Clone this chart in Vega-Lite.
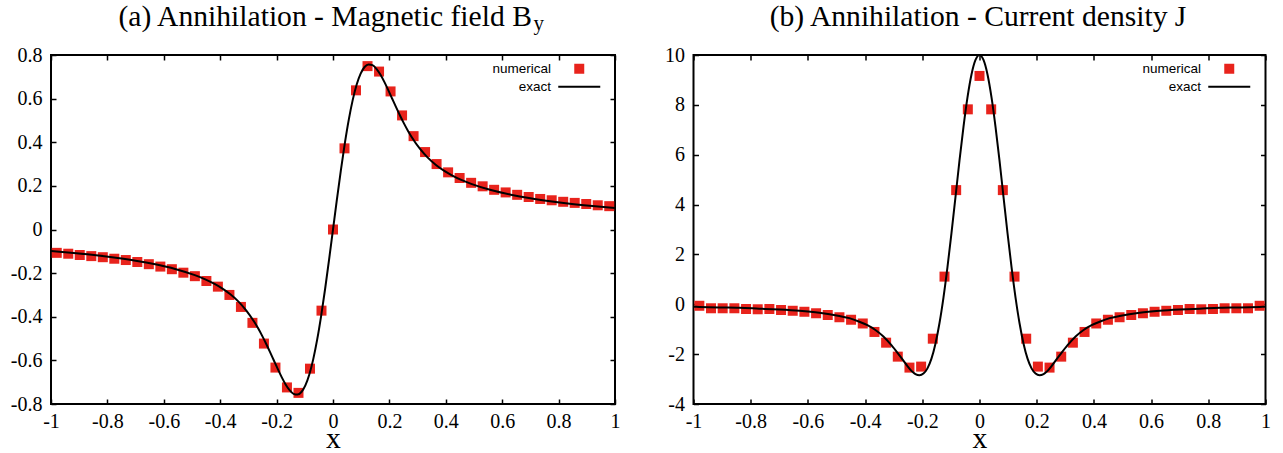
{
  "$schema": "https://vega.github.io/schema/vega-lite/v6.json",
  "background": "white",
  "padding": {"left": 9, "top": 1, "right": 0, "bottom": 0},
  "spacing": 42.5,
  "datasets": {
    "bNum": [
      {"x": -0.9796, "y": -0.107, "series": "numerical"},
      {"x": -0.9388, "y": -0.111, "series": "numerical"},
      {"x": -0.8980, "y": -0.117, "series": "numerical"},
      {"x": -0.8571, "y": -0.122, "series": "numerical"},
      {"x": -0.8163, "y": -0.127, "series": "numerical"},
      {"x": -0.7755, "y": -0.134, "series": "numerical"},
      {"x": -0.7347, "y": -0.140, "series": "numerical"},
      {"x": -0.6939, "y": -0.149, "series": "numerical"},
      {"x": -0.6531, "y": -0.159, "series": "numerical"},
      {"x": -0.6122, "y": -0.170, "series": "numerical"},
      {"x": -0.5714, "y": -0.182, "series": "numerical"},
      {"x": -0.5306, "y": -0.198, "series": "numerical"},
      {"x": -0.4898, "y": -0.214, "series": "numerical"},
      {"x": -0.4490, "y": -0.236, "series": "numerical"},
      {"x": -0.4082, "y": -0.262, "series": "numerical"},
      {"x": -0.3673, "y": -0.300, "series": "numerical"},
      {"x": -0.3265, "y": -0.355, "series": "numerical"},
      {"x": -0.2857, "y": -0.428, "series": "numerical"},
      {"x": -0.2449, "y": -0.523, "series": "numerical"},
      {"x": -0.2041, "y": -0.633, "series": "numerical"},
      {"x": -0.1633, "y": -0.724, "series": "numerical"},
      {"x": -0.1224, "y": -0.749, "series": "numerical"},
      {"x": -0.0816, "y": -0.638, "series": "numerical"},
      {"x": -0.0408, "y": -0.372, "series": "numerical"},
      {"x": 0.0, "y": 0.0, "series": "numerical"},
      {"x": 0.0408, "y": 0.372, "series": "numerical"},
      {"x": 0.0816, "y": 0.638, "series": "numerical"},
      {"x": 0.1224, "y": 0.749, "series": "numerical"},
      {"x": 0.1633, "y": 0.724, "series": "numerical"},
      {"x": 0.2041, "y": 0.633, "series": "numerical"},
      {"x": 0.2449, "y": 0.523, "series": "numerical"},
      {"x": 0.2857, "y": 0.428, "series": "numerical"},
      {"x": 0.3265, "y": 0.355, "series": "numerical"},
      {"x": 0.3673, "y": 0.300, "series": "numerical"},
      {"x": 0.4082, "y": 0.262, "series": "numerical"},
      {"x": 0.4490, "y": 0.236, "series": "numerical"},
      {"x": 0.4898, "y": 0.214, "series": "numerical"},
      {"x": 0.5306, "y": 0.198, "series": "numerical"},
      {"x": 0.5714, "y": 0.182, "series": "numerical"},
      {"x": 0.6122, "y": 0.170, "series": "numerical"},
      {"x": 0.6531, "y": 0.159, "series": "numerical"},
      {"x": 0.6939, "y": 0.149, "series": "numerical"},
      {"x": 0.7347, "y": 0.140, "series": "numerical"},
      {"x": 0.7755, "y": 0.134, "series": "numerical"},
      {"x": 0.8163, "y": 0.127, "series": "numerical"},
      {"x": 0.8571, "y": 0.122, "series": "numerical"},
      {"x": 0.8980, "y": 0.117, "series": "numerical"},
      {"x": 0.9388, "y": 0.111, "series": "numerical"},
      {"x": 0.9796, "y": 0.107, "series": "numerical"}
    ],
    "bExact": [
      {"x": -1.0, "y": -0.099}, {"x": -0.98, "y": -0.101}, {"x": -0.91, "y": -0.109},
      {"x": -0.84, "y": -0.1183}, {"x": -0.77, "y": -0.1295}, {"x": -0.70, "y": -0.1429},
      {"x": -0.63, "y": -0.1597}, {"x": -0.56, "y": -0.181}, {"x": -0.49, "y": -0.2094},
      {"x": -0.455, "y": -0.2273}, {"x": -0.42, "y": -0.2496}, {"x": -0.392, "y": -0.271},
      {"x": -0.364, "y": -0.2971}, {"x": -0.336, "y": -0.3294}, {"x": -0.308, "y": -0.3703},
      {"x": -0.28, "y": -0.4218}, {"x": -0.266, "y": -0.4518}, {"x": -0.252, "y": -0.4854},
      {"x": -0.238, "y": -0.5215}, {"x": -0.224, "y": -0.5599}, {"x": -0.21, "y": -0.5995},
      {"x": -0.196, "y": -0.6391}, {"x": -0.182, "y": -0.6766}, {"x": -0.168, "y": -0.7102},
      {"x": -0.154, "y": -0.7367}, {"x": -0.14, "y": -0.7533}, {"x": -0.126, "y": -0.757},
      {"x": -0.112, "y": -0.7449}, {"x": -0.098, "y": -0.7147}, {"x": -0.084, "y": -0.6647},
      {"x": -0.07, "y": -0.5942}, {"x": -0.056, "y": -0.5039}, {"x": -0.042, "y": -0.3956},
      {"x": -0.028, "y": -0.2727}, {"x": -0.014, "y": -0.139}, {"x": 0.0, "y": 0.0},
      {"x": 0.014, "y": 0.139}, {"x": 0.028, "y": 0.2727}, {"x": 0.042, "y": 0.3956},
      {"x": 0.056, "y": 0.5039}, {"x": 0.07, "y": 0.5942}, {"x": 0.084, "y": 0.6647},
      {"x": 0.098, "y": 0.7147}, {"x": 0.112, "y": 0.7449}, {"x": 0.126, "y": 0.757},
      {"x": 0.14, "y": 0.7533}, {"x": 0.154, "y": 0.7367}, {"x": 0.168, "y": 0.7102},
      {"x": 0.182, "y": 0.6766}, {"x": 0.196, "y": 0.6391}, {"x": 0.21, "y": 0.5995},
      {"x": 0.224, "y": 0.5599}, {"x": 0.238, "y": 0.5215}, {"x": 0.252, "y": 0.4854},
      {"x": 0.266, "y": 0.4518}, {"x": 0.28, "y": 0.4218}, {"x": 0.308, "y": 0.3703},
      {"x": 0.336, "y": 0.3294}, {"x": 0.364, "y": 0.2971}, {"x": 0.392, "y": 0.271},
      {"x": 0.42, "y": 0.2496}, {"x": 0.455, "y": 0.2273}, {"x": 0.49, "y": 0.2094},
      {"x": 0.56, "y": 0.181}, {"x": 0.63, "y": 0.1597}, {"x": 0.70, "y": 0.1429},
      {"x": 0.77, "y": 0.1295}, {"x": 0.84, "y": 0.1183}, {"x": 0.91, "y": 0.109},
      {"x": 0.98, "y": 0.101}, {"x": 1.0, "y": 0.099}
    ],
    "jNum": [
      {"x": -0.9796, "y": -0.06, "series": "numerical"},
      {"x": -0.9388, "y": -0.16, "series": "numerical"},
      {"x": -0.8980, "y": -0.16, "series": "numerical"},
      {"x": -0.8571, "y": -0.16, "series": "numerical"},
      {"x": -0.8163, "y": -0.19, "series": "numerical"},
      {"x": -0.7755, "y": -0.20, "series": "numerical"},
      {"x": -0.7347, "y": -0.19, "series": "numerical"},
      {"x": -0.6939, "y": -0.23, "series": "numerical"},
      {"x": -0.6531, "y": -0.26, "series": "numerical"},
      {"x": -0.6122, "y": -0.30, "series": "numerical"},
      {"x": -0.5714, "y": -0.36, "series": "numerical"},
      {"x": -0.5306, "y": -0.43, "series": "numerical"},
      {"x": -0.4898, "y": -0.52, "series": "numerical"},
      {"x": -0.4490, "y": -0.62, "series": "numerical"},
      {"x": -0.4082, "y": -0.77, "series": "numerical"},
      {"x": -0.3673, "y": -1.11, "series": "numerical"},
      {"x": -0.3265, "y": -1.54, "series": "numerical"},
      {"x": -0.2857, "y": -2.10, "series": "numerical"},
      {"x": -0.2449, "y": -2.54, "series": "numerical"},
      {"x": -0.2041, "y": -2.50, "series": "numerical"},
      {"x": -0.1633, "y": -1.38, "series": "numerical"},
      {"x": -0.1224, "y": 1.11, "series": "numerical"},
      {"x": -0.0816, "y": 4.58, "series": "numerical"},
      {"x": -0.0408, "y": 7.82, "series": "numerical"},
      {"x": 0.0, "y": 9.16, "series": "numerical"},
      {"x": 0.0408, "y": 7.82, "series": "numerical"},
      {"x": 0.0816, "y": 4.58, "series": "numerical"},
      {"x": 0.1224, "y": 1.11, "series": "numerical"},
      {"x": 0.1633, "y": -1.38, "series": "numerical"},
      {"x": 0.2041, "y": -2.50, "series": "numerical"},
      {"x": 0.2449, "y": -2.54, "series": "numerical"},
      {"x": 0.2857, "y": -2.10, "series": "numerical"},
      {"x": 0.3265, "y": -1.54, "series": "numerical"},
      {"x": 0.3673, "y": -1.11, "series": "numerical"},
      {"x": 0.4082, "y": -0.77, "series": "numerical"},
      {"x": 0.4490, "y": -0.62, "series": "numerical"},
      {"x": 0.4898, "y": -0.52, "series": "numerical"},
      {"x": 0.5306, "y": -0.43, "series": "numerical"},
      {"x": 0.5714, "y": -0.36, "series": "numerical"},
      {"x": 0.6122, "y": -0.30, "series": "numerical"},
      {"x": 0.6531, "y": -0.26, "series": "numerical"},
      {"x": 0.6939, "y": -0.23, "series": "numerical"},
      {"x": 0.7347, "y": -0.19, "series": "numerical"},
      {"x": 0.7755, "y": -0.20, "series": "numerical"},
      {"x": 0.8163, "y": -0.19, "series": "numerical"},
      {"x": 0.8571, "y": -0.16, "series": "numerical"},
      {"x": 0.8980, "y": -0.16, "series": "numerical"},
      {"x": 0.9388, "y": -0.16, "series": "numerical"},
      {"x": 0.9796, "y": -0.06, "series": "numerical"}
    ],
    "jExact": [
      {"x": -1.0, "y": -0.10}, {"x": -0.98, "y": -0.105}, {"x": -0.91, "y": -0.127},
      {"x": -0.84, "y": -0.14}, {"x": -0.77, "y": -0.175}, {"x": -0.70, "y": -0.21},
      {"x": -0.63, "y": -0.26}, {"x": -0.56, "y": -0.34}, {"x": -0.49, "y": -0.47},
      {"x": -0.455, "y": -0.556}, {"x": -0.42, "y": -0.70}, {"x": -0.392, "y": -0.84},
      {"x": -0.364, "y": -1.03}, {"x": -0.336, "y": -1.29}, {"x": -0.308, "y": -1.64},
      {"x": -0.28, "y": -2.05}, {"x": -0.266, "y": -2.26}, {"x": -0.252, "y": -2.48},
      {"x": -0.238, "y": -2.67}, {"x": -0.224, "y": -2.80}, {"x": -0.21, "y": -2.85},
      {"x": -0.196, "y": -2.78}, {"x": -0.182, "y": -2.57}, {"x": -0.168, "y": -2.18},
      {"x": -0.154, "y": -1.58}, {"x": -0.14, "y": -0.76}, {"x": -0.126, "y": 0.27},
      {"x": -0.112, "y": 1.49}, {"x": -0.098, "y": 2.85}, {"x": -0.084, "y": 4.30},
      {"x": -0.07, "y": 5.76}, {"x": -0.056, "y": 7.12}, {"x": -0.042, "y": 8.30},
      {"x": -0.028, "y": 9.22}, {"x": -0.014, "y": 9.80}, {"x": 0.0, "y": 10.0},
      {"x": 0.014, "y": 9.80}, {"x": 0.028, "y": 9.22}, {"x": 0.042, "y": 8.30},
      {"x": 0.056, "y": 7.12}, {"x": 0.07, "y": 5.76}, {"x": 0.084, "y": 4.30},
      {"x": 0.098, "y": 2.85}, {"x": 0.112, "y": 1.49}, {"x": 0.126, "y": 0.27},
      {"x": 0.14, "y": -0.76}, {"x": 0.154, "y": -1.58}, {"x": 0.168, "y": -2.18},
      {"x": 0.182, "y": -2.57}, {"x": 0.196, "y": -2.78}, {"x": 0.21, "y": -2.85},
      {"x": 0.224, "y": -2.80}, {"x": 0.238, "y": -2.67}, {"x": 0.252, "y": -2.48},
      {"x": 0.266, "y": -2.26}, {"x": 0.28, "y": -2.05}, {"x": 0.308, "y": -1.64},
      {"x": 0.336, "y": -1.29}, {"x": 0.364, "y": -1.03}, {"x": 0.392, "y": -0.84},
      {"x": 0.42, "y": -0.70}, {"x": 0.455, "y": -0.556}, {"x": 0.49, "y": -0.47},
      {"x": 0.56, "y": -0.34}, {"x": 0.63, "y": -0.26}, {"x": 0.70, "y": -0.21},
      {"x": 0.77, "y": -0.175}, {"x": 0.84, "y": -0.14}, {"x": 0.91, "y": -0.127},
      {"x": 0.98, "y": -0.105}, {"x": 1.0, "y": -0.10}
    ]
  },
  "resolve": {"scale": {"color": "independent", "shape": "independent", "x": "independent", "y": "independent"}, "legend": {"color": "independent", "shape": "independent"}},
  "hconcat": [
    {
      "width": 564,
      "height": 349,
      "title": {"text": "(a) Annihilation - Magnetic field B", "anchor": "start", "frame": "group", "dx": 67.5, "baseline": "alphabetic", "offset": -43.6},
      "layer": [
        {
          "data": {"name": "bNum"},
          "mark": {"type": "point", "filled": true, "size": 100, "opacity": 1},
          "encoding": {
            "x": {"field": "x", "type": "quantitative", "scale": {"domain": [-1, 1], "nice": false, "zero": false},
              "axis": {"orient": "bottom", "values": [-1, -0.8, -0.6, -0.4, -0.2, 0, 0.2, 0.4, 0.6, 0.8, 1], "labelExpr": "replace(format(datum.value, '~g'), '\u2212', '-')", "labelPadding": 12.4, "title": "x", "titleY": 43.5, "titleBaseline": "alphabetic"}},
            "y": {"field": "y", "type": "quantitative", "scale": {"domain": [-0.8, 0.8], "nice": false, "zero": false},
              "axis": {"orient": "left", "values": [-0.8, -0.6, -0.4, -0.2, 0, 0.2, 0.4, 0.6, 0.8], "labelExpr": "replace(format(datum.value, '~g'), '\u2212', '-')", "labelPadding": 14, "title": null}},
            "color": {"field": "series", "type": "nominal", "scale": {"domain": ["numerical", "exact"], "range": ["#e8231c", "#000000"]},
              "legend": {"title": null, "orient": "none", "legendX": 521.5, "legendY": 7, "labelAlign": "right", "labelOffset": -35, "labelFont": "Liberation Sans", "labelFontSize": 13.5, "labelColor": "black", "symbolSize": 100, "rowPadding": 1, "padding": 0, "symbolStrokeWidth": 2, "symbolOpacity": 1,
                "encode": {"symbols": {"update": {"stroke": {"signal": "datum.value === 'exact' ? 'black' : 'transparent'"}, "strokeWidth": {"value": 2}}}}}},
            "shape": {"field": "series", "type": "nominal", "scale": {"domain": ["numerical", "exact"], "range": ["square", "M-4.2,0H4.2"]},
              "legend": {"title": null, "orient": "none", "legendX": 521.5, "legendY": 7, "labelAlign": "right", "labelOffset": -35, "labelFont": "Liberation Sans", "labelFontSize": 13.5, "labelColor": "black", "symbolSize": 100, "rowPadding": 1, "padding": 0, "symbolStrokeWidth": 2, "symbolOpacity": 1,
                "encode": {"symbols": {"update": {"stroke": {"signal": "datum.value === 'exact' ? 'black' : 'transparent'"}, "strokeWidth": {"value": 2}}}}}}
          }
        },
        {
          "data": {"name": "bExact"},
          "mark": {"type": "line", "color": "black", "strokeWidth": 2, "interpolate": "monotone"},
          "encoding": {
            "x": {"field": "x", "type": "quantitative", "scale": {"domain": [-1, 1], "nice": false, "zero": false},
              "axis": {"orient": "top", "values": [-1, -0.8, -0.6, -0.4, -0.2, 0, 0.2, 0.4, 0.6, 0.8, 1], "labels": false, "title": "y", "titleX": 482, "titleY": -26, "titleAlign": "left", "titleBaseline": "alphabetic", "titleFontSize": 21, "titleAngle": 0}},
            "y": {"field": "y", "type": "quantitative", "scale": {"domain": [-0.8, 0.8], "nice": false, "zero": false},
              "axis": {"orient": "right", "values": [-0.8, -0.6, -0.4, -0.2, 0, 0.2, 0.4, 0.6, 0.8], "labels": false, "title": null}}
          }
        }
      ]
    },
    {
      "width": 572,
      "height": 349,
      "title": {"text": "(b) Annihilation - Current density J", "anchor": "middle", "frame": "group", "dx": -1.5, "baseline": "alphabetic", "offset": -10.6},
      "layer": [
        {
          "data": {"name": "jNum"},
          "mark": {"type": "point", "filled": true, "size": 100, "opacity": 1},
          "encoding": {
            "x": {"field": "x", "type": "quantitative", "scale": {"domain": [-1, 1], "nice": false, "zero": false},
              "axis": {"orient": "bottom", "values": [-1, -0.8, -0.6, -0.4, -0.2, 0, 0.2, 0.4, 0.6, 0.8, 1], "labelExpr": "replace(format(datum.value, '~g'), '\u2212', '-')", "labelPadding": 12.4, "title": "x", "titleY": 43.5, "titleBaseline": "alphabetic"}},
            "y": {"field": "y", "type": "quantitative", "scale": {"domain": [-4, 10], "nice": false, "zero": false},
              "axis": {"orient": "left", "values": [-4, -2, 0, 2, 4, 6, 8, 10], "labelExpr": "replace(format(datum.value, '~g'), '\u2212', '-')", "labelPadding": 14, "title": null}},
            "color": {"field": "series", "type": "nominal", "scale": {"domain": ["numerical", "exact"], "range": ["#e8231c", "#000000"]},
              "legend": {"title": null, "orient": "none", "legendX": 529, "legendY": 7, "labelAlign": "right", "labelOffset": -35, "labelFont": "Liberation Sans", "labelFontSize": 13.5, "labelColor": "black", "symbolSize": 100, "rowPadding": 1, "padding": 0, "symbolStrokeWidth": 2, "symbolOpacity": 1,
                "encode": {"symbols": {"update": {"stroke": {"signal": "datum.value === 'exact' ? 'black' : 'transparent'"}, "strokeWidth": {"value": 2}}}}}},
            "shape": {"field": "series", "type": "nominal", "scale": {"domain": ["numerical", "exact"], "range": ["square", "M-4.2,0H4.2"]},
              "legend": {"title": null, "orient": "none", "legendX": 529, "legendY": 7, "labelAlign": "right", "labelOffset": -35, "labelFont": "Liberation Sans", "labelFontSize": 13.5, "labelColor": "black", "symbolSize": 100, "rowPadding": 1, "padding": 0, "symbolStrokeWidth": 2, "symbolOpacity": 1,
                "encode": {"symbols": {"update": {"stroke": {"signal": "datum.value === 'exact' ? 'black' : 'transparent'"}, "strokeWidth": {"value": 2}}}}}}
          }
        },
        {
          "data": {"name": "jExact"},
          "mark": {"type": "line", "color": "black", "strokeWidth": 2, "interpolate": "monotone"},
          "encoding": {
            "x": {"field": "x", "type": "quantitative", "scale": {"domain": [-1, 1], "nice": false, "zero": false},
              "axis": {"orient": "top", "values": [-1, -0.8, -0.6, -0.4, -0.2, 0, 0.2, 0.4, 0.6, 0.8, 1], "labels": false, "title": null}},
            "y": {"field": "y", "type": "quantitative", "scale": {"domain": [-4, 10], "nice": false, "zero": false},
              "axis": {"orient": "right", "values": [-4, -2, 0, 2, 4, 6, 8, 10], "labels": false, "title": null}}
          }
        }
      ]
    }
  ],
  "config": {
    "font": "Liberation Serif, Times New Roman, serif",
    "view": {"stroke": "black", "strokeWidth": 2},
    "axis": {"domain": false, "grid": false, "ticks": true, "tickSize": -5, "tickColor": "black", "tickWidth": 1.5, "labelFont": "Liberation Serif, Times New Roman, serif", "labelFontSize": 20, "labelColor": "black", "labelFlush": false, "labelOverlap": false, "titleFont": "Liberation Serif, Times New Roman, serif", "titleFontSize": 29.6, "titleFontWeight": "normal", "titleColor": "black"},
    "title": {"font": "Liberation Serif, Times New Roman, serif", "fontSize": 29.6, "fontWeight": "normal", "color": "black"},
    "legend": {"labelFont": "Liberation Sans"}
  }
}
